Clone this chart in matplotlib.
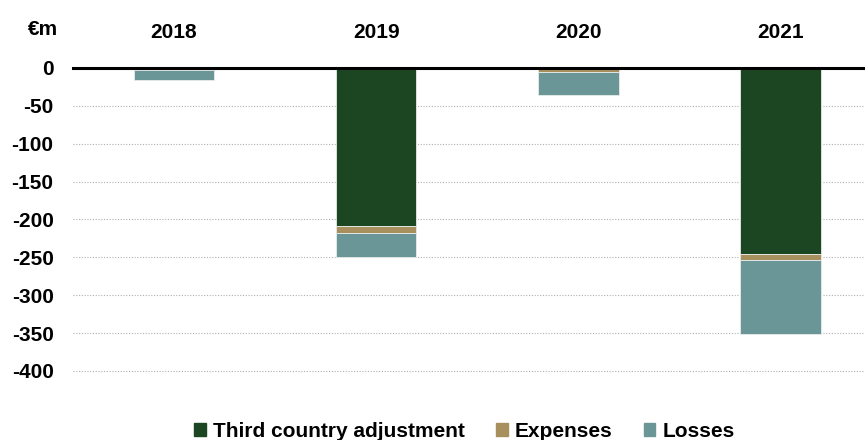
import numpy as np
import matplotlib
matplotlib.use('Agg')
import matplotlib.pyplot as plt
from matplotlib.patches import Patch

plt.rcParams['font.family'] = ['Liberation Sans', 'DejaVu Sans']
plt.rcParams['font.weight'] = 'bold'

years = ['2018', '2019', '2020', '2021']
third_country = [0, -209, 0, -246]
expenses = [-3, -9, -5, -7]
losses = [-13, -31, -31, -98]
y_ticks = [0, -50, -100, -150, -200, -250, -300, -350, -400]

c_green = '#1b4621'
c_tan = '#a88f5e'
c_teal = '#6b9697'
fs = 15

fig = plt.figure(figsize=(8.65, 4.4), dpi=100)
ax = fig.add_axes([0.0844, 0.1227, 0.9156, 0.7228])

x = np.arange(len(years))
w = 0.4
tc = np.array(third_country)
ex = np.array(expenses)
lo = np.array(losses)

ax.bar(x, tc, w, color=c_green, edgecolor='#e8ecea', linewidth=0.6, zorder=3)
ax.bar(x, ex, w, bottom=tc, color=c_tan, edgecolor='#e8ecea', linewidth=0.6, zorder=3)
ax.bar(x, lo, w, bottom=tc + ex, color=c_teal, edgecolor='#e8ecea', linewidth=0.6, zorder=3)

ax.set_xlim(-0.5, 3.42)
ax.set_ylim(-420, 0)
ax.set_yticks(y_ticks)
ax.set_yticklabels([str(v) for v in y_ticks], fontsize=fs, fontweight='bold')
for v in y_ticks[1:]:
    ax.axhline(v, color='#b0b0b0', linestyle=(0, (1, 1.5)), linewidth=0.8, zorder=1)
ax.axhline(0, color='black', linewidth=2.2, zorder=4, clip_on=False)

ax.xaxis.tick_top()
ax.set_xticks(x)
ax.set_xticklabels(years, fontsize=fs, fontweight='bold')
ax.tick_params(axis='x', length=0, pad=19)
ax.tick_params(axis='y', length=0, pad=14)
for s in ax.spines.values():
    s.set_visible(False)

fig.text(0.050, 0.933, '€m', ha='center', va='center', fontsize=fs, fontweight='bold')

handles = [Patch(color=c_green, label='Third country adjustment'),
           Patch(color=c_tan, label='Expenses'),
           Patch(color=c_teal, label='Losses')]
fig.legend(handles=handles, loc='center', bbox_to_anchor=(0.537, 0.02), ncol=3,
           frameon=False, fontsize=fs, handlelength=0.55, handleheight=0.55,
           handletextpad=0.35, columnspacing=1.5, borderaxespad=0)

fig.savefig('out.png', dpi=100)
